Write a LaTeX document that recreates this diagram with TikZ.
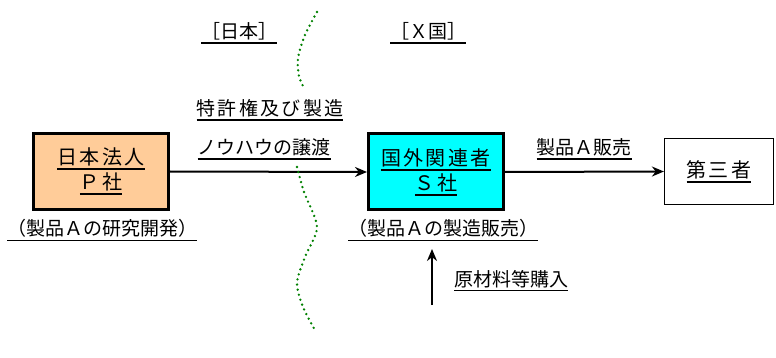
\documentclass[tikz,border=0pt]{standalone}
\usepackage{fontspec}
\setmainfont{Noto Sans CJK JP}
\newfontfamily\jp{Noto Sans CJK JP}
\newfontfamily\jpsp[LetterSpace=12]{Noto Sans CJK JP}
\usetikzlibrary{arrows.meta}
\newcommand{\uln}[1]{\leavevmode\setbox0=\hbox{#1}\rlap{\rule[-5.3pt]{\wd0}{1.8pt}}\box0}
\definecolor{peach}{HTML}{FFCC99}
\definecolor{cyanbox}{HTML}{00FFFF}
\definecolor{dotgreen}{HTML}{008000}
\tikzset{
  thickbox/.style={draw=black, line width=3pt, minimum width=135pt, minimum height=76pt, inner sep=0pt, align=center, font=\jpsp\fontsize{20}{25}\selectfont},
  thinbox/.style={draw=black, line width=1.2pt, minimum width=109pt, minimum height=66pt, inner sep=0pt, font=\jpsp\fontsize{20}{25}\selectfont},
  lbl/.style={anchor=base, inner sep=0pt, font=\jp\fontsize{19}{23}\selectfont},
  flow/.style={line width=2pt, -{Stealth[length=12pt,width=10pt]}},
  border/.style={dotgreen, line width=2.6pt, line cap=round, dash pattern=on 0pt off 5.2pt}
}
\begin{document}
\begin{tikzpicture}[x=1pt,y=-1pt]
\useasboundingbox (0,0) rectangle (776,358);
% boxes
\node[thickbox, fill=peach] (P) at (101,171.5) {\uln{日本法人}\\\uln{Ｐ社}};
\node[thickbox, fill=cyanbox] (S) at (436,172) {\uln{国外関連者}\\\uln{Ｓ社}};
\node[thinbox, fill=white] (T) at (719,171.5) {\uln{第三者}};
% labels
\node[lbl] (Pl) at (102,236) {\uln{（製品Ａの研究開発）}};
\node[lbl] (Sl) at (443,236) {\uln{（製品Ａの製造販売）}};
\node[lbl] (jp) at (239,39) {\uln{［日本］}};
\node[lbl] (xc) at (428,39) {\uln{［Ｘ国］}};
\node[lbl, font=\jpsp\fontsize{19}{23}\selectfont] (t1) at (270,116) {\uln{特許権及び製造}};
\node[lbl] (t2) at (264,155) {\uln{ノウハウの譲渡}};
\node[lbl] (t3) at (584,155) {\uln{製品Ａ販売}};
\node[lbl] (t4) at (511,286) {\uln{原材料等購入}};
% arrows
\draw[flow] (P.east) -- (S.west);
\draw[flow] (S.east) -- (T.west);
\coordinate (src) at (432,305);
\coordinate (dst) at (432,249);
\draw[flow] (src) -- (dst);
% border line
\draw[border] plot[smooth] coordinates {(317,12) (305,35) (298,58) (299,76) (304,88)};
\draw[border] plot[smooth] coordinates {(297,167) (304,192) (317,227) (305,257) (297,283) (303,307) (316,332)};
\end{tikzpicture}
\end{document}
